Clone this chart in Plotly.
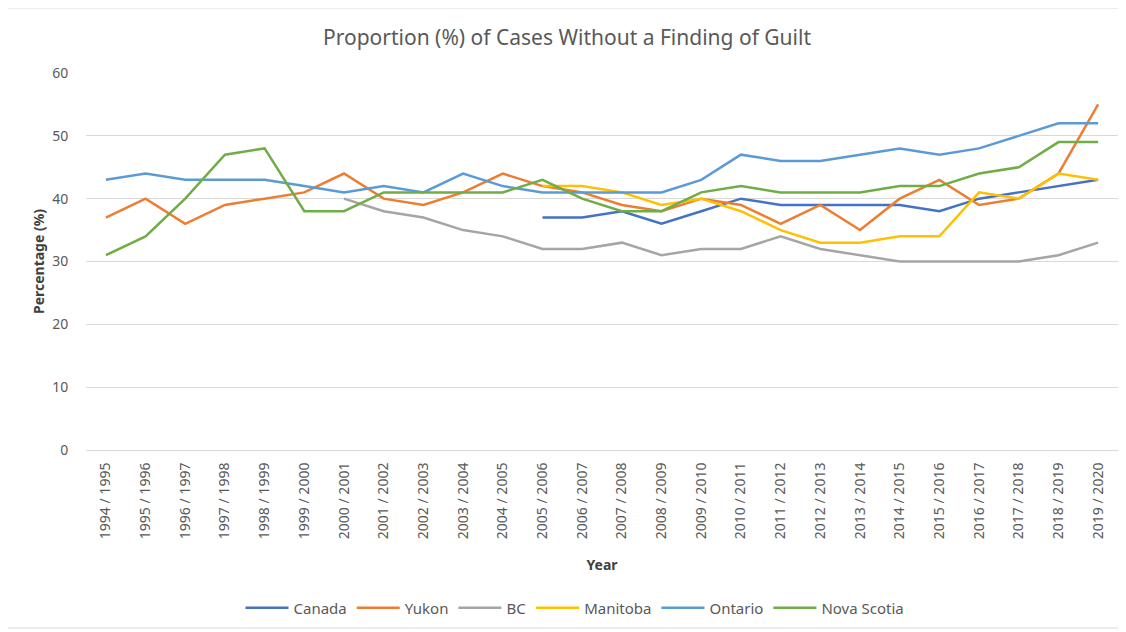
import plotly.graph_objects as go

years = ["1994 / 1995", "1995 / 1996", "1996 / 1997", "1997 / 1998", "1998 / 1999",
         "1999 / 2000", "2000 / 2001", "2001 / 2002", "2002 / 2003", "2003 / 2004",
         "2004 / 2005", "2005 / 2006", "2006 / 2007", "2007 / 2008", "2008 / 2009",
         "2009 / 2010", "2010 / 2011", "2011 / 2012", "2012 / 2013", "2013 / 2014",
         "2014 / 2015", "2015 / 2016", "2016 / 2017", "2017 / 2018", "2018 / 2019",
         "2019 / 2020"]

N = None
canada = [N, N, N, N, N, N, N, N, N, N, N, 37, 37, 38, 36, 38, 40, 39, 39, 39, 39, 38, 40, 41, 42, 43]
yukon = [37, 40, 36, 39, 40, 41, 44, 40, 39, 41, 44, 42, 41, 39, 38, 40, 39, 36, 39, 35, 40, 43, 39, 40, 44, 55]
bc = [N, N, N, N, N, N, 40, 38, 37, 35, 34, 32, 32, 33, 31, 32, 32, 34, 32, 31, 30, 30, 30, 30, 31, 33]
manitoba = [N, N, N, N, N, N, N, N, N, N, N, 42, 42, 41, 39, 40, 38, 35, 33, 33, 34, 34, 41, 40, 44, 43]
ontario = [43, 44, 43, 43, 43, 42, 41, 42, 41, 44, 42, 41, 41, 41, 41, 43, 47, 46, 46, 47, 48, 47, 48, 50, 52, 52]
nova_scotia = [31, 34, 40, 47, 48, 38, 38, 41, 41, 41, 41, 43, 40, 38, 38, 41, 42, 41, 41, 41, 42, 42, 44, 45, 49, 49]

series = [
    ("Canada", canada, "#4472C4"),
    ("Yukon", yukon, "#ED7D31"),
    ("BC", bc, "#A5A5A5"),
    ("Manitoba", manitoba, "#FFC000"),
    ("Ontario", ontario, "#5B9BD5"),
    ("Nova Scotia", nova_scotia, "#70AD47"),
]

FONT = "Noto Sans"
fig = go.Figure()
for name, vals, color in series:
    fig.add_trace(go.Scatter(
        x=years, y=vals, name=name, mode="lines",
        line=dict(color=color, width=2.5),
        connectgaps=False,
    ))

# the page body has an 8px margin, so the figure starts at (8, 8) on screen
OFF = 8
W, H = 1126, 632
L, T = 86 - OFF, 73 - OFF
pw, ph = 1032, 377
R = W - L - pw
B = H - T - ph

def px_x(p):
    return (p - OFF - L) / pw

def px_y(p):
    return (T + ph - (p - OFF)) / ph

fig.update_layout(
    width=W, height=H,
    margin=dict(l=L, r=R, t=T, b=B, autoexpand=False),
    paper_bgcolor="white", plot_bgcolor="white",
    font=dict(family=FONT, color="#595959", size=13),
    title=dict(text="Proportion (%) of Cases Without a Finding of Guilt",
               xref="container", x=(567 - OFF) / W, xanchor="center",
               yref="container", y=1 - (38 - OFF) / H, yanchor="middle",
               font=dict(size=21, color="#595959", family=FONT)),
    showlegend=True,
    legend=dict(orientation="h", x=px_x(575), xanchor="center",
                y=px_y(608), yanchor="middle",
                font=dict(size=15, color="#595959", family=FONT),
                itemwidth=43, tracegroupgap=0, bgcolor="rgba(0,0,0,0)"),
    xaxis=dict(
        type="category", range=[-0.5, 25.5], tickangle=-90,
        showgrid=False, showline=False, zeroline=False,
        ticks="outside", ticklen=6, tickcolor="rgba(0,0,0,0)",
        tickfont=dict(size=14, color="#595959"),
        title=dict(text="<b>Year</b>", font=dict(size=14, color="#404040"), standoff=22),
    ),
    yaxis=dict(
        range=[0, 60], dtick=10, showgrid=True, gridcolor="#D9D9D9", gridwidth=1,
        zeroline=True, zerolinecolor="#D9D9D9", zerolinewidth=1, showline=False,
        ticks="outside", ticklen=14, tickcolor="rgba(0,0,0,0)",
        tickfont=dict(size=14, color="#595959"),
        title=dict(text="<b>Percentage (%)</b>", font=dict(size=14, color="#404040"), standoff=4),
    ),
    shapes=[dict(type="rect", xref="paper", yref="paper",
                 x0=px_x(3), x1=px_x(1121), y0=px_y(628), y1=px_y(8),
                 line=dict(color="#D9D9D9", width=1), fillcolor="rgba(0,0,0,0)",
                 layer="below")],
)

fig.write_html("out.html")
